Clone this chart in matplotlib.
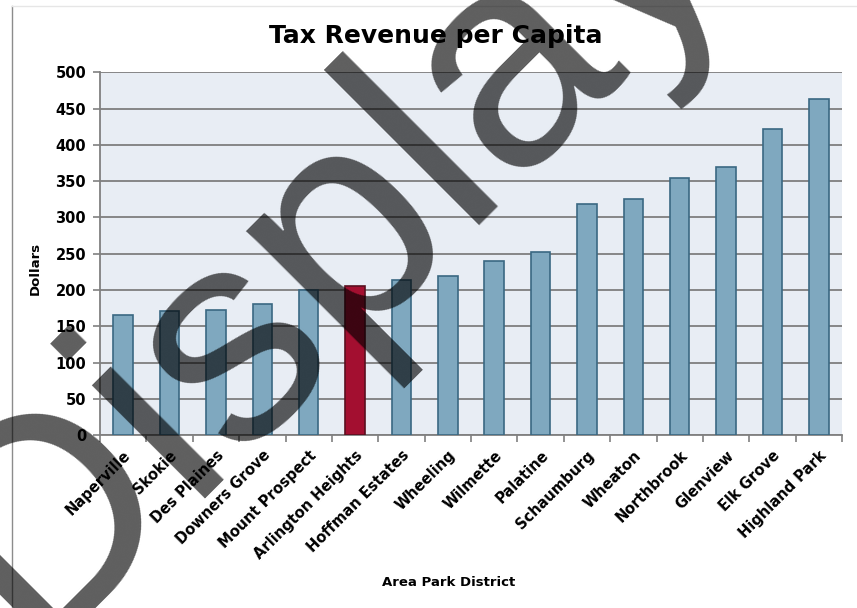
import math
import matplotlib
matplotlib.use("Agg")
import matplotlib.pyplot as plt
from matplotlib.lines import Line2D
from matplotlib.font_manager import FontProperties

districts = ["Naperville", "Skokie", "Des Plaines", "Downers Grove", "Mount Prospect",
             "Arlington Heights", "Hoffman Estates", "Wheeling", "Wilmette", "Palatine",
             "Schaumburg", "Wheaton", "Northbrook", "Glenview", "Elk Grove", "Highland Park"]
revenue = [166, 171, 173, 181, 200, 205, 214, 219, 240, 253, 319, 325, 355, 369, 422, 463]
highlight = "Arlington Heights"
y_ticks = [0, 50, 100, 150, 200, 250, 300, 350, 400, 450, 500]

FONT = "DejaVu Sans"
BAR = "#7fa8bf"
BAR_EDGE = "#3a6882"
RED = "#a30f30"
RED_EDGE = "#5a1020"
W, H, DPI = 857, 608, 100

fig = plt.figure(figsize=(W / DPI, H / DPI), dpi=DPI)
fig.patch.set_facecolor("white")
ax = fig.add_axes([100 / W, 1 - 435.2 / H, 742 / W, (435.2 - 72.3) / H])
ax.set_facecolor("#e8edf4")

x = list(range(len(districts)))
colors = [RED if d == highlight else BAR for d in districts]
edges = [RED_EDGE if d == highlight else BAR_EDGE for d in districts]
ax.bar(x, revenue, width=0.42, color=colors, edgecolor=edges, linewidth=1.2, zorder=3)

ax.set_xlim(-0.5, len(districts) - 0.5)
ax.set_ylim(0, 500)
ax.set_yticks(y_ticks)
ax.set_yticklabels([str(v) for v in y_ticks], fontfamily=FONT, fontweight="bold", fontsize=10.5)
ax.yaxis.grid(True, color="#7e7e7e", linewidth=1.3, zorder=1)
ax.set_axisbelow(True)

ax.set_xticks(x)
ax.set_xticklabels(districts, rotation=45, ha="right", va="top", rotation_mode="anchor",
                   fontfamily=FONT, fontweight="bold", fontsize=10.5)
ax.tick_params(axis="x", length=0, pad=9)
ax.set_xticks([i - 0.5 for i in range(len(districts) + 1)], minor=True)
ax.tick_params(axis="x", which="minor", length=5, color="#808080", width=1.2)
ax.tick_params(axis="y", length=5, color="#808080", width=1.2, pad=5)

for side in ["top", "right"]:
    ax.spines[side].set_visible(False)
ax.spines["left"].set_color("#808080")
ax.spines["bottom"].set_color("#808080")
ax.spines["left"].set_linewidth(1.3)
ax.spines["bottom"].set_linewidth(1.3)

fig.text(35 / W, 1 - 268 / H, "Dollars", rotation=90, ha="center", va="center",
         fontfamily=FONT, fontweight="bold", fontsize=9.5)
fig.text(449 / W, 1 - 583 / H, "Area Park District", ha="center", va="center",
         fontfamily=FONT, fontweight="bold", fontsize=9.5)
fig.text(436 / W, 1 - 36 / H, "Tax Revenue per Capita", ha="center", va="center",
         fontfamily=FONT, fontweight="bold", fontsize=18)

# chart frame edges
fig.add_artist(Line2D([12 / W, 12 / W], [0, 1 - 6 / H], transform=fig.transFigure,
                      color="#8c8c8c", linewidth=1))
fig.add_artist(Line2D([12 / W, 1], [1 - 6 / H, 1 - 6 / H], transform=fig.transFigure,
                      color="#e6e6e6", linewidth=1))

# large diagonal overlay word, positioned so the "l" sits on its baseline point
mark_word = "Display"
mark_prop = FontProperties(family="Liberation Sans", size=218)
renderer = fig.canvas.get_renderer()
w_prefix = renderer.get_text_width_height_descent("Disp", mark_prop, ismath=False)[0]
w_l = renderer.get_text_width_height_descent("l", mark_prop, ismath=False)[0]
offset = w_prefix + w_l / 2
angle = math.radians(45)
lx, ly = 482, H - 197
sx = lx - offset * math.cos(angle)
sy = ly - offset * math.sin(angle)
fig.text(sx / W, sy / H, mark_word, rotation=45, rotation_mode="anchor",
         ha="left", va="baseline", fontproperties=mark_prop,
         color="black", alpha=0.63, zorder=10)

fig.savefig("out.png", dpi=DPI)
